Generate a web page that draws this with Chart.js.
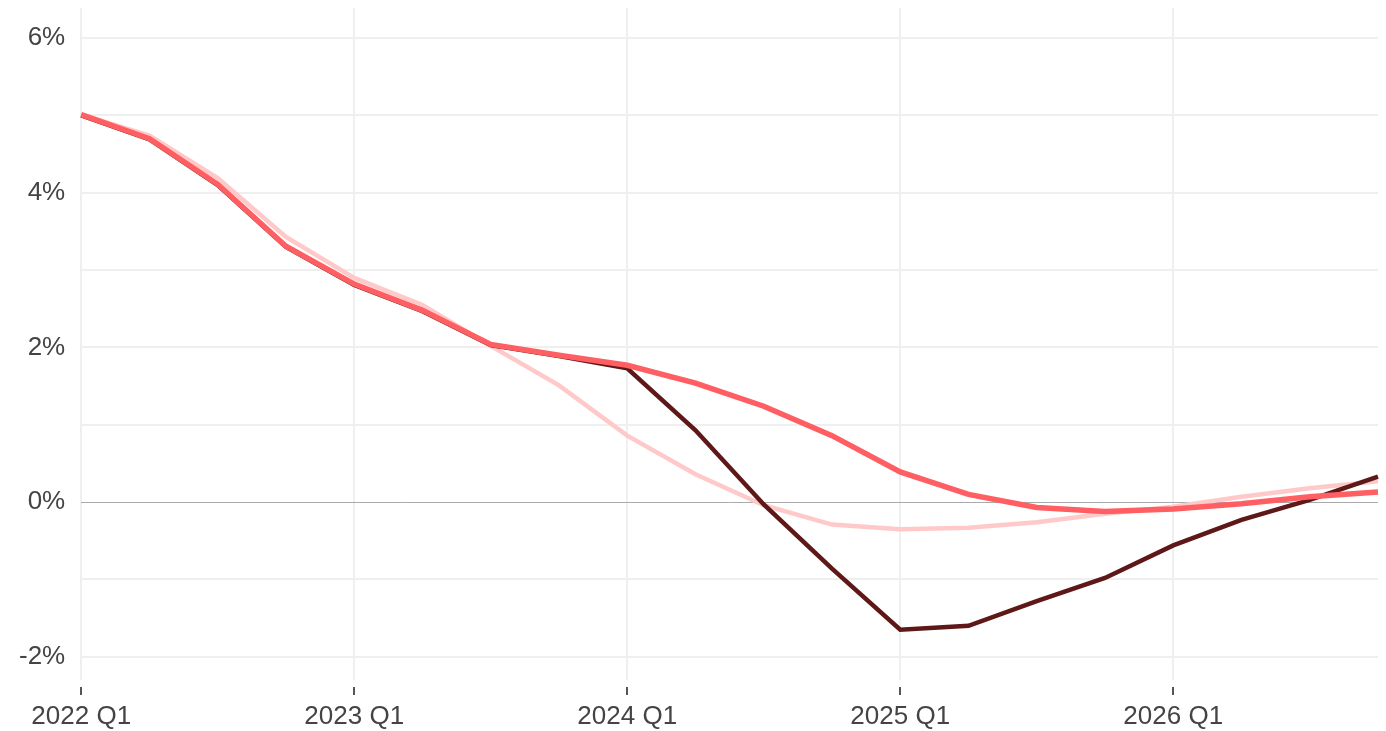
<!DOCTYPE html>
<html>
<head>
<meta charset="utf-8">
<script src="https://cdn.jsdelivr.net/npm/chart.js@4"></script>
<style>
  html, body { margin: 0; padding: 0; background: #fff; }
  #wrap { width: 1386px; height: 731px; }
</style>
</head>
<body>
<div id="wrap"><canvas id="growthChart"></canvas></div>
<script>
// Quarters on the x axis
const quarters = [
    '2022 Q1', '2022 Q2', '2022 Q3', '2022 Q4',
    '2023 Q1', '2023 Q2', '2023 Q3', '2023 Q4',
    '2024 Q1', '2024 Q2', '2024 Q3', '2024 Q4',
    '2025 Q1', '2025 Q2', '2025 Q3', '2025 Q4',
    '2026 Q1', '2026 Q2', '2026 Q3', '2026 Q4'
];

// Series values (%)
const lightSeries = [5.01, 4.74, 4.19, 3.43, 2.90, 2.55, 2.02, 1.51, 0.86, 0.36, -0.04, -0.29, -0.35, -0.33, -0.26, -0.15, -0.06, 0.07, 0.18, 0.27];
const darkSeries  = [5.00, 4.69, 4.10, 3.30, 2.81, 2.47, 2.03, 1.89, 1.73, 0.93, -0.03, -0.86, -1.65, -1.60, -1.28, -0.98, -0.56, -0.23, 0.03, 0.33];
const redSeries   = [5.01, 4.70, 4.11, 3.31, 2.82, 2.48, 2.04, 1.90, 1.77, 1.54, 1.24, 0.86, 0.39, 0.10, -0.07, -0.12, -0.09, -0.02, 0.07, 0.13];

// y axis tick labels shown
const yLabelValues = [-2, 0, 2, 4, 6];

const ctx = document.getElementById('growthChart').getContext('2d');

let chart = new Chart(ctx, {
    type: 'line',
    data: {
        labels: quarters,
        datasets: [
            {
                label: 'Light',
                data: lightSeries,
                borderColor: '#ffc9c9',
                borderWidth: 4.5,
                pointRadius: 0,
                tension: 0,
                order: 3
            },
            {
                label: 'Dark',
                data: darkSeries,
                borderColor: '#5e1818',
                borderWidth: 4.5,
                pointRadius: 0,
                tension: 0,
                order: 2
            },
            {
                label: 'Red',
                data: redSeries,
                borderColor: '#ff5e62',
                borderWidth: 5.5,
                pointRadius: 0,
                tension: 0,
                order: 1
            }
        ]
    },
    options: {
        responsive: true,
        maintainAspectRatio: false,
        animation: false,
        layout: { padding: { top: 8, right: 8, left: 3, bottom: 0 } },
        plugins: {
            legend: { display: false },
            tooltip: { enabled: false }
        },
        scales: {
            x: {
                offset: false,
                border: { display: false },
                grid: {
                    color: (c) => (c.index % 4 === 0 ? '#efefef' : 'rgba(0,0,0,0)'),
                    tickColor: (c) => (c.index % 4 === 0 ? '#555555' : 'rgba(0,0,0,0)'),
                    lineWidth: 2,
                    tickWidth: 2,
                    tickLength: 15,
                    tickBorderDash: [0, 7, 8, 0]
                },
                afterFit: (axis) => {
                    axis.height = 51;
                },
                ticks: {
                    autoSkip: false,
                    maxRotation: 0,
                    padding: 6,
                    color: '#444444',
                    font: { family: 'Liberation Sans, Arial, sans-serif', size: 26 },
                    callback: function (value, index) {
                        return index % 4 === 0 ? quarters[index] : '';
                    }
                }
            },
            y: {
                min: -2.3,
                max: 6.39,
                border: { display: false },
                grid: {
                    color: (c) => (c.tick && c.tick.value === 0 ? '#aaaaaa' : '#efefef'),
                    lineWidth: (c) => (c.tick && c.tick.value === 0 ? 1 : 2),
                    drawTicks: false
                },
                afterBuildTicks: (axis) => {
                    axis.ticks = [-2, -1, 0, 1, 2, 3, 4, 5, 6].map(v => ({ value: v }));
                },
                afterFit: (axis) => {
                    axis.paddingTop = 0;
                    axis.paddingBottom = 0;
                },
                ticks: {
                    padding: 16,
                    color: '#444444',
                    font: { family: 'Liberation Sans, Arial, sans-serif', size: 26 },
                    callback: (v) => (yLabelValues.includes(v) ? v + '%' : '')
                }
            }
        }
    }
});
</script>
</body>
</html>
